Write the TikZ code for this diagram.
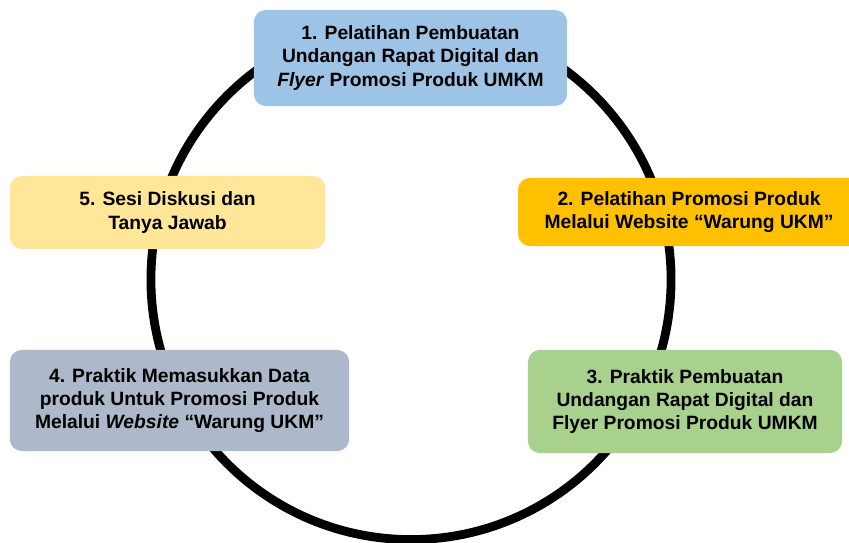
\documentclass[tikz,border=0pt]{standalone}
\usepackage{fontspec}
\setmainfont{Liberation Sans}
\usepackage{xcolor}
\usetikzlibrary{positioning}
\definecolor{clrOne}{HTML}{9DC3E6}
\definecolor{clrTwo}{HTML}{FFC000}
\definecolor{clrThree}{HTML}{A9D18E}
\definecolor{clrFour}{HTML}{ADB9CA}
\definecolor{clrFive}{HTML}{FFE699}
\tikzset{
  stepbox/.style={rectangle, rounded corners=0.3cm, draw=none, align=center,
    inner sep=0pt, font=\fontsize{13.7}{16.6}\selectfont\bfseries},
  ring/.style={line width=0.22cm, black},
}

\begin{document}
\begin{tikzpicture}[x=0.025cm, y=-0.025cm]

\useasboundingbox (0,0) rectangle (849,543);
\clip (0,0) rectangle (849,543);

% ── the ring behind the steps ──────────────────────────────────────────────
\coordinate (mid) at (411,279.5);
\draw[ring] (mid) circle [radius=6.5cm];

% ── steps ──────────────────────────────────────────────────────────────────
\node[stepbox, fill=clrOne, minimum width=7.83cm, minimum height=2.4cm] (s1)
  at (410.5,58) {1. Pelatihan Pembuatan\\Undangan Rapat Digital dan\\
  \textit{Flyer} Promosi Produk UMKM};
\node[stepbox, fill=clrTwo, minimum width=8.55cm, minimum height=1.7cm] (s2)
  at (689,212) {2. Pelatihan Promosi Produk\\Melalui Website “Warung UKM”};
\node[stepbox, fill=clrThree, minimum width=7.85cm, minimum height=2.58cm] (s3)
  at (685,401.5) {3. Praktik Pembuatan\\Undangan Rapat Digital dan\\
  Flyer Promosi Produk UMKM};
\node[stepbox, fill=clrFour, minimum width=8.48cm, minimum height=2.53cm] (s4)
  at (179.5,400.5) {4. Praktik Memasukkan Data\\produk Untuk Promosi Produk\\
  Melalui \textit{Website} “Warung UKM”};
\node[stepbox, fill=clrFive, minimum width=7.88cm, minimum height=1.83cm] (s5)
  at (167.5,212.5) {5. Sesi Diskusi dan\\Tanya Jawab};

\end{tikzpicture}
\end{document}
